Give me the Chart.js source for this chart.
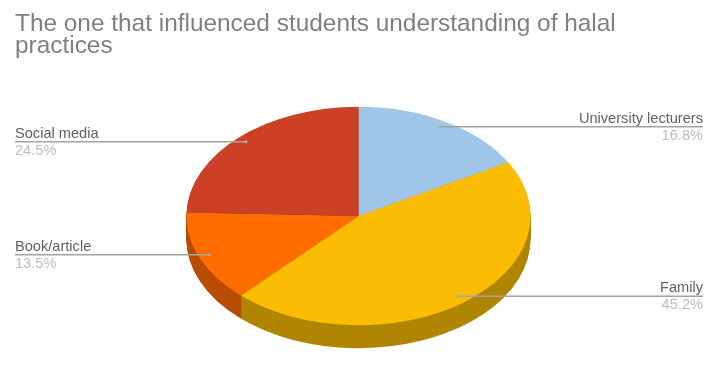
<!DOCTYPE html>
<html>
<head>
<meta charset="utf-8">
<title>Halal practices</title>
<script src="https://cdn.jsdelivr.net/npm/chart.js@4/dist/chart.umd.min.js"></script>
<style>
    html, body { margin: 0; padding: 0; background: #fff; }
    #wrap { width: 709px; height: 388px; }
</style>
</head>
<body>
<div id="wrap"><canvas id="pie" width="709" height="388"></canvas></div>
<script>
const titleLines = ["The one that influenced students understanding of halal", "practices"];
const categories = ["University lecturers", "Family", "Book/article", "Social media"];
const shares = [16.8, 45.2, 13.5, 24.5];
const sliceColors = ["#9FC5E8", "#FBBC04", "#FF6D01", "#CC4125"];
const sideColors = ["#7F9DB9", "#B08600", "#B84C00", "#8F2E1A"];

// the round pie gets squashed into a tilted disc
const squash = 0.635;
const discCenterY = 216;
const discDepth = 23;
const labelFont = '14.6px "Liberation Sans"';

function tilt(ctx, arc) {
    ctx.translate(0, discCenterY);
    ctx.scale(1, squash);
    ctx.translate(0, -arc.y);
}

const discPlugin = {
    id: "disc",
    beforeDatasetsDraw(chart) {
        const ctx = chart.ctx;
        const arcs = chart.getDatasetMeta(0).data;
        // side wall: stack darker copies of each slice downwards
        for (let d = discDepth; d > 0; d--) {
            arcs.forEach((arc, i) => {
                ctx.save();
                ctx.translate(0, d);
                tilt(ctx, arc);
                ctx.beginPath();
                ctx.moveTo(arc.x, arc.y);
                ctx.arc(arc.x, arc.y, arc.outerRadius, arc.startAngle, arc.endAngle);
                ctx.closePath();
                ctx.fillStyle = sideColors[i];
                ctx.fill();
                ctx.restore();
            });
        }
        ctx.save();
        tilt(ctx, arcs[0]);
    },
    afterDatasetsDraw(chart) {
        const ctx = chart.ctx;
        ctx.restore();
        const arcs = chart.getDatasetMeta(0).data;
        arcs.forEach((arc, i) => {
            const mid = (arc.startAngle + arc.endAngle) / 2;
            const px = arc.x + Math.cos(mid) * arc.outerRadius * 0.94;
            const py = discCenterY + Math.sin(mid) * arc.outerRadius * 0.94 * squash - 0.5;
            const onRight = px > arc.x;
            const edge = onRight ? 703 : 15;

            ctx.strokeStyle = "#A3A3A3";
            ctx.lineWidth = 1.5;
            ctx.beginPath();
            ctx.moveTo(px, py);
            ctx.lineTo(edge, py);
            ctx.stroke();

            ctx.fillStyle = "#ADADAD";
            ctx.beginPath();
            ctx.arc(px, py, 1.5, 0, Math.PI * 2);
            ctx.fill();

            ctx.font = labelFont;
            ctx.textAlign = onRight ? "right" : "left";
            ctx.textBaseline = "alphabetic";
            ctx.fillStyle = "#616161";
            ctx.fillText(categories[i], edge, py - 4);
            ctx.fillStyle = "#BDBDBD";
            ctx.fillText(shares[i].toFixed(1) + "%", edge, py + 13);
        });
    }
};

new Chart(document.getElementById("pie"), {
    type: "pie",
    data: {
        labels: categories,
        datasets: [{
            data: shares,
            backgroundColor: sliceColors,
            borderWidth: 0,
            radius: 172,
            clip: false
        }]
    },
    options: {
        responsive: false,
        animation: false,
        events: [],
        layout: { padding: { left: 15, right: 7, top: 0, bottom: 0 } },
        plugins: {
            legend: { display: false },
            tooltip: { enabled: false },
            title: {
                display: true,
                text: titleLines,
                align: "start",
                color: "#808080",
                font: { family: '"Liberation Sans"', size: 24.4, weight: "normal", lineHeight: 0.92 },
                padding: { top: 13, bottom: 10 }
            }
        }
    },
    plugins: [discPlugin]
});
</script>
</body>
</html>
